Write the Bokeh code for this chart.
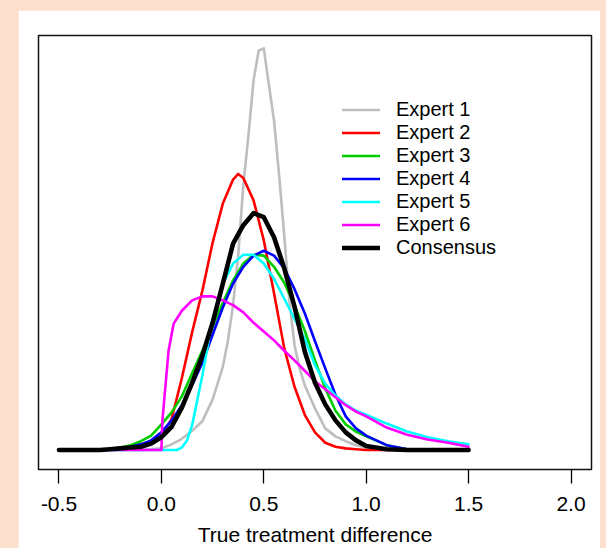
from bokeh.plotting import figure
from bokeh.models import Legend, LegendItem, Range1d, FixedTicker
from bokeh.layouts import column
from bokeh.embed import file_html
from bokeh.resources import INLINE

# ---- data ----
x_common = [-0.5, -0.4, -0.3, -0.25, -0.2, -0.15, -0.1, -0.05,
            0.0, 0.05, 0.1, 0.15, 0.2, 0.25, 0.3, 0.35, 0.4, 0.45, 0.5,
            0.55, 0.6, 0.65, 0.7, 0.75, 0.8, 0.85, 0.9, 0.95, 1.0,
            1.1, 1.2, 1.3, 1.4, 1.5]

x_expert1 = [-0.5, -0.4, -0.3, -0.2, -0.1, 0.0, 0.05, 0.1, 0.15, 0.2, 0.25, 0.3,
             0.325, 0.35, 0.375, 0.4, 0.425, 0.45, 0.475, 0.5, 0.525, 0.55,
             0.575, 0.6, 0.625, 0.65, 0.675, 0.7,
             0.75, 0.8, 0.85, 0.9, 0.95, 1.0, 1.1, 1.2, 1.3, 1.4, 1.5]
dens_expert1 = [0, 0, 0, 0, 0, 0.02, 0.07, 0.14, 0.24, 0.36, 0.63, 1.04,
                1.37, 1.81, 2.43, 3.31, 3.93, 4.62, 4.99, 5.02, 4.56, 4.12,
                3.43, 2.68, 1.87, 1.31, 1.02, 0.81,
                0.52, 0.27, 0.17, 0.11, 0.06, 0.03, 0.01, 0.01, 0, 0, 0]

x_expert2 = [-0.5, -0.4, -0.3, -0.25, -0.2, -0.15, -0.1, -0.05,
             0.0, 0.05, 0.1, 0.15, 0.2, 0.25, 0.3, 0.35, 0.375, 0.4, 0.45, 0.5,
             0.55, 0.6, 0.65, 0.7, 0.75, 0.8, 0.85, 0.9, 0.95, 1.0,
             1.1, 1.2, 1.3, 1.4, 1.5]
dens_expert2 = [0, 0, 0, 0.01, 0.02, 0.04, 0.07, 0.11,
                0.17, 0.39, 0.9, 1.47, 1.99, 2.59, 3.08, 3.38, 3.45, 3.40, 3.12, 2.62,
                1.96, 1.27, 0.79, 0.44, 0.22, 0.09, 0.04, 0.02, 0.01, 0,
                0, 0, 0, 0, 0]

dens_expert3 = [0, 0, 0.01, 0.01, 0.03, 0.06, 0.11, 0.18,
                0.32, 0.47, 0.67, 0.96, 1.24, 1.54, 1.84, 2.12, 2.33, 2.44, 2.43,
                2.29, 2.09, 1.81, 1.49, 1.12, 0.77, 0.49, 0.32, 0.23, 0.17,
                0.06, 0.01, 0, 0, 0]

dens_expert4 = [0, 0, 0, 0.01, 0.02, 0.04, 0.07, 0.12,
                0.22, 0.37, 0.56, 0.81, 1.09, 1.44, 1.78, 2.08, 2.29, 2.43, 2.49,
                2.43, 2.27, 2.01, 1.71, 1.36, 1.02, 0.69, 0.42, 0.27, 0.18,
                0.06, 0.01, 0, 0, 0]

x_expert5 = [-0.5, 0.0, 0.05, 0.075, 0.1, 0.125, 0.15, 0.2, 0.25, 0.3, 0.35, 0.4,
             0.45, 0.5, 0.55, 0.6, 0.65, 0.7, 0.75, 0.8, 0.85, 0.9, 0.95, 1.0,
             1.1, 1.2, 1.3, 1.4, 1.5]
dens_expert5 = [0, 0, 0, 0, 0.03, 0.12, 0.31, 0.93, 1.64, 2.08, 2.33, 2.44,
                2.44, 2.33, 2.14, 1.89, 1.64, 1.39, 1.06, 0.83, 0.68, 0.57, 0.49, 0.44,
                0.33, 0.23, 0.16, 0.11, 0.07]

x_expert6 = [-0.5, 0.0, 0.005, 0.035, 0.06, 0.1, 0.15, 0.2, 0.25, 0.3, 0.35, 0.4,
             0.45, 0.5, 0.55, 0.6, 0.65, 0.7, 0.75, 0.8, 0.85, 0.9, 0.95, 1.0,
             1.1, 1.2, 1.3, 1.4, 1.5]
dens_expert6 = [0, 0, 0.37, 1.24, 1.58, 1.74, 1.87, 1.92, 1.92, 1.87, 1.81, 1.72,
                1.59, 1.48, 1.37, 1.24, 1.12, 0.99, 0.86, 0.76, 0.66, 0.56, 0.48, 0.42,
                0.28, 0.19, 0.13, 0.09, 0.04]

dens_consensus = [0, 0, 0, 0.01, 0.02, 0.03, 0.04, 0.08,
                  0.16, 0.29, 0.53, 0.84, 1.18, 1.59, 2.08, 2.58, 2.81, 2.96, 2.91,
                  2.66, 2.27, 1.79, 1.23, 0.84, 0.57, 0.37, 0.22, 0.12, 0.05,
                  0.01, 0, 0, 0, 0]

series_labels = ["Expert 1", "Expert 2", "Expert 3", "Expert 4", "Expert 5", "Expert 6", "Consensus"]
x_ticks = [-0.5, 0.0, 0.5, 1.0, 1.5, 2.0]
x_tick_labels = ["-0.5", "0.0", "0.5", "1.0", "1.5", "2.0"]
x_title = "True treatment difference"

# ---- styles ----
colors = ["#BEBEBE", "#FF0000", "#00CD00", "#0000FF", "#00FFFF", "#FF00FF", "#000000"]
widths = [2.6, 2.6, 2.6, 2.6, 2.6, 2.6, 4.6]
FONT = "Liberation Sans"

p = figure(frame_width=553, frame_height=434,
           x_range=Range1d(-0.6, 2.1), y_range=Range1d(-0.244, 5.181),
           output_backend="svg", toolbar_location=None, y_axis_location=None,
           min_border_left=20, min_border_right=9, min_border_top=25, min_border_bottom=79)
p.background_fill_color = "white"
p.border_fill_color = "white"
p.outline_line_color = "#111111"
p.outline_line_width = 1.5
p.grid.visible = False

xs = [x_expert1, x_expert2, x_common, x_common, x_expert5, x_expert6, x_common]
ys = [dens_expert1, dens_expert2, dens_expert3, dens_expert4, dens_expert5, dens_expert6, dens_consensus]

renderers = []
for xv, yv, c, w in zip(xs, ys, colors, widths):
    r = p.line(xv, yv, line_color=c, line_width=w, line_join="round", line_cap="round")
    renderers.append(r)

ax = p.xaxis[0]
ax.ticker = FixedTicker(ticks=x_ticks)
ax.major_label_overrides = {t: l for t, l in zip(x_ticks, x_tick_labels)}
ax.axis_line_color = None
ax.major_tick_out = 14
ax.major_tick_in = 0
ax.minor_tick_line_color = None
ax.major_tick_line_color = "black"
ax.major_tick_line_width = 1.3
ax.major_label_text_font = FONT
ax.major_label_text_font_size = "21px"
ax.major_label_text_color = "black"
ax.major_label_standoff = 13
ax.axis_label = x_title
ax.axis_label_text_font = FONT
ax.axis_label_text_font_size = "21px"
ax.axis_label_text_font_style = "normal"
ax.axis_label_text_color = "black"
ax.axis_label_standoff = 9

legend = Legend(items=[LegendItem(label=lab, renderers=[r]) for lab, r in zip(series_labels, renderers)],
                location=(304, 210), glyph_width=38, glyph_height=23, label_height=23,
                label_standoff=16, spacing=0, padding=0, margin=0,
                border_line_color=None, background_fill_alpha=0,
                label_text_font=FONT, label_text_font_size="20px", label_text_color="black")
p.add_layout(legend)

p.margin = (10, 6, 0, 18)
page = column(p, styles={"background-color": "#FDE0CD"})

open("out.html", "w").write(file_html(page, INLINE))
